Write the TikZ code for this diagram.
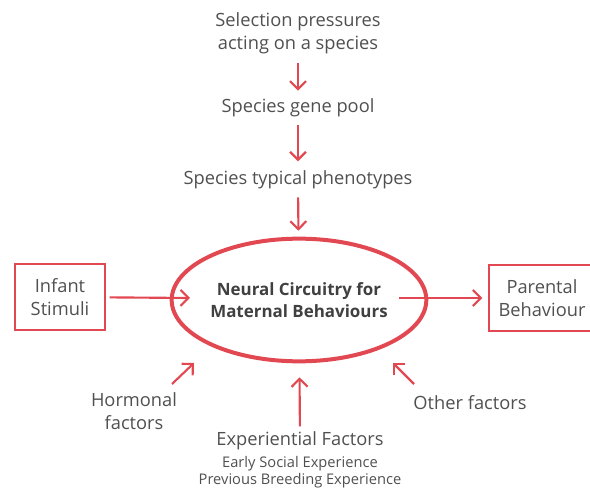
\documentclass[tikz,border=0pt]{standalone}
\usepackage{fontspec}
\setmainfont{Open Sans}
\usetikzlibrary{positioning, calc, arrows.meta, shapes.geometric}
\tikzset{>={Straight Barb[length=6pt, width=12pt]}}
\definecolor{redline}{RGB}{226,72,82}
\definecolor{greytext}{RGB}{80,80,80}

\begin{document}
\begin{tikzpicture}
    [
        x=0.75pt, y=-0.75pt,
        txt_node/.style={align=center, text=greytext, font=\fontsize{13.7}{17}\selectfont, inner sep=1pt},
        small_txt/.style={align=center, text=greytext, font=\fontsize{11}{13}\selectfont, inner sep=0pt},
        box_node/.style={rectangle, draw=redline, line width=1.6pt, align=center, text=greytext, font=\fontsize{13.7}{17}\selectfont, inner sep=0pt},
        ell_node/.style={ellipse, draw=redline, line width=3pt, align=center, text=black!75, font=\bfseries\fontsize{12.7}{17}\selectfont, inner sep=0pt, outer sep=0pt, minimum width=191pt, minimum height=92pt},
        red_arrow/.style={->, draw=redline, line width=1.6pt},
    ]
  \useasboundingbox (0,0) rectangle (590,488);

  \node[txt_node] (sel) at (298,33) {Selection pressures\\acting on a species};
  \node[txt_node] (gene) at (298,108) {Species gene pool};
  \node[txt_node] (pheno) at (298,180) {Species typical phenotypes};
  \node[ell_node] (neural) at (299,300) {Neural Circuitry for\\Maternal Behaviours};
  \node[box_node, minimum width=67pt, minimum height=49pt] (infant) at (60,297) {Infant\\Stimuli};
  \node[box_node, minimum width=80pt, minimum height=49pt] (parent) at (542,298) {Parental\\Behaviour};
  \node[txt_node] (horm) at (134,411) {Hormonal\\factors};
  \node[txt_node] (other) at (470,403) {Other factors};
  \node[txt_node] (exp) at (300,441) {Experiential Factors};
  \node[small_txt, below=3pt of exp] (expsub) {Early Social Experience\\Previous Breeding Experience};

  \coordinate (h0) at (172,384);
  \coordinate (h1) at (194,363);
  \coordinate (o0) at (414,384);
  \coordinate (o1) at (393,363);
  \coordinate (itip) at (190,298);
  \coordinate (pstart) at (399,298);

  \draw[red_arrow, shorten <=6pt, shorten >=5pt] (sel) -- (gene);
  \draw[red_arrow, shorten <=5pt, shorten >=6pt] (gene) -- (pheno);
  \draw[red_arrow, shorten <=5pt, shorten >=6pt] (pheno) -- (neural);
  \draw[red_arrow, shorten <=3pt] (infant) -- (itip);
  \draw[red_arrow, shorten >=4pt] (pstart) -- (parent);
  \draw[red_arrow] (h0) -- (h1);
  \draw[red_arrow] (o0) -- (o1);
  \draw[red_arrow, shorten <=3pt, shorten >=12pt] (exp) -- (neural);
\end{tikzpicture}
\end{document}
